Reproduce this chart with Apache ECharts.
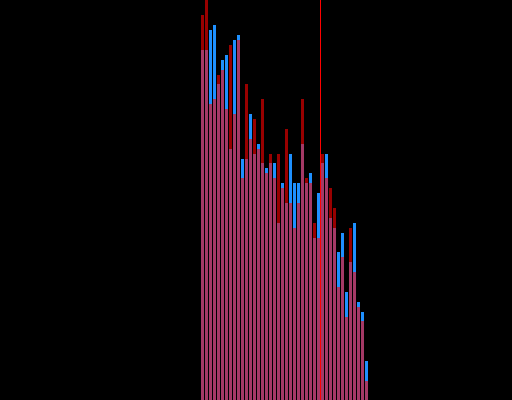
<!DOCTYPE html>
<html>
<head>
<meta charset="utf-8">
<script src="https://cdn.jsdelivr.net/npm/echarts@6/dist/echarts.min.js"></script>
<style>
    html, body { margin: 0; padding: 0; background: #000; }
    #chart { width: 512px; height: 400px; }
</style>
</head>
<body>
<div id="chart"></div>
<script>
// bin positions (x) and the two overlaid distributions
var bins = [];
for (var i = 0; i < 42; i++) bins.push(i);

var blueValues = [87.5, 87.5, 92.5, 93.75, 79, 85, 86.25, 62.75, 90, 91.25,
    60.25, 60.25, 71.5, 61.5, 64, 59.25, 58, 59.25, 59.25, 44.25,
    54.25, 49.25, 61.5, 54.25, 54.25, 64, 54.25, 56.75, 40.5, 51.75,
    59.25, 61.5, 45.5, 43, 37, 41.75, 27, 34.5, 44.25, 24.5,
    22, 9.75];

var redValues = [96.25, 100, 74, 75.25, 81.25, 82.5, 72.75, 88.75, 71.5, 90,
    55.5, 79, 65.25, 70.25, 62.75, 75.25, 56.75, 61.5, 55.5, 61.5,
    53, 67.75, 49.25, 43, 49.25, 75.25, 55.5, 54.25, 44.25, 40.5,
    61.5, 55.5, 53, 48, 28.25, 35.75, 20.75, 43, 32, 23.25,
    19.75, 4.75];

// vertical marker between bins
var markerX = 29.5;

function pairs(xs, ys) {
    return xs.map(function (x, i) { return [x, ys[i]]; });
}

var myChart = echarts.init(document.getElementById("chart"));
myChart.setOption({
    backgroundColor: "#000",
    animation: false,
    grid: {
        top: 0,
        bottom: 0,
        left: 200.5,
        width: 168
    },
    xAxis: {
        type: "value",
        min: -0.5,
        max: 41.5,
        show: false
    },
    yAxis: {
        type: "value",
        min: 0,
        max: 100,
        show: false
    },
    series: [
        {
            type: "bar",
            barWidth: 3,
            barGap: "-100%",
            itemStyle: { color: "#1e90ff" },
            data: pairs(bins, blueValues)
        },
        {
            type: "bar",
            barWidth: 3,
            barGap: "-100%",
            itemStyle: { color: "#ff0000", opacity: 0.6 },
            data: pairs(bins, redValues),
            markLine: {
                silent: true,
                symbol: "none",
                label: { show: false },
                lineStyle: { color: "#ff0000", width: 1, type: "solid", opacity: 1 },
                data: [{ xAxis: markerX }]
            }
        }
    ]
});
</script>
</body>
</html>
